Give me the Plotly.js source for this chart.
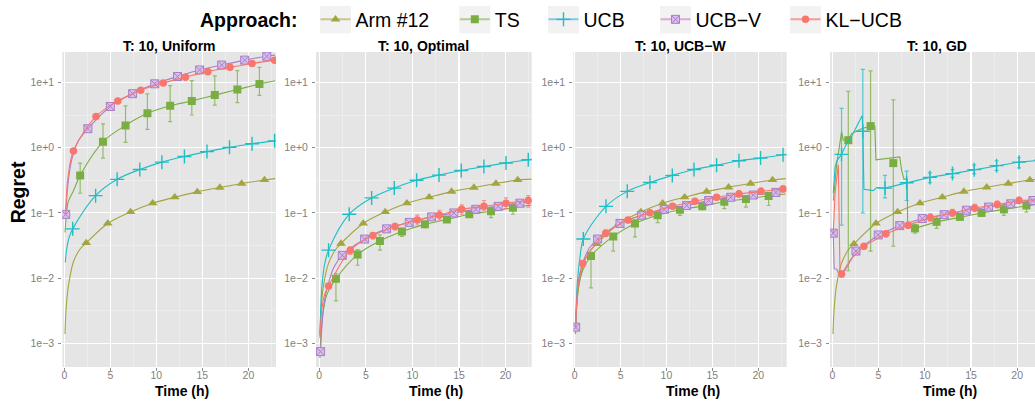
<!DOCTYPE html>
<html><head><meta charset="utf-8">
<script src="https://cdn.plot.ly/plotly-3.0.1.min.js"></script>
<style>html,body{margin:0;padding:0;overflow:hidden;background:#fff;width:1035px;height:404px}#chart{width:1050px;height:404px}</style>
</head><body><div id="chart"></div><script>
// ---------- categories / labels ----------
const panelTitles = ['T: 10, Uniform', 'T: 10, Optimal', 'T: 10, UCB\u2212W', 'T: 10, GD'];
const approaches = ['Arm #12', 'TS', 'UCB', 'UCB\u2212V', 'KL\u2212UCB'];
const xTickVals = [0, 5, 10, 15, 20];
const yTickVals = [0.001, 0.01, 0.1, 1, 10];
const yTickText = ['1e\u22123', '1e\u22122', '1e\u22121', '1e+0', '1e+1'];

// ---------- Panel 1: Uniform ----------
const uni_arm_lt = [0.07,0.2,0.44,1.0,1.72,2.38,4.72,7.2,9.6,12.0,14.45,16.9,19.27,21.75,22.9];
const uni_arm_lr = [0.0014,0.0035,0.0075,0.018,0.028,0.0347,0.069,0.1035,0.141,0.174,0.21,0.245,0.282,0.32,0.335];
const uni_arm_mt = [2.38,4.72,7.2,9.6,12.0,14.45,16.9,19.27,21.75];
const uni_arm_mr = [0.0347,0.069,0.1035,0.141,0.174,0.21,0.245,0.282,0.32];

const uni_ts_lt = [0.07,0.3,0.44,1.0,1.72,4.2,6.65,9.03,11.5,13.85,16.35,18.8,21.2,22.9];
const uni_ts_lr = [0.05,0.12,0.15,0.22,0.376,1.23,2.19,3.35,4.37,5.19,6.38,7.76,9.44,10.6];
const uni_ts_mt = [1.72,4.2,6.65,9.03,11.5,13.85,16.35,18.8,21.2];
const uni_ts_mr = [0.376,1.23,2.19,3.35,4.37,5.19,6.38,7.76,9.44];
const uni_ts_hi = [0.58,2.32,4.37,6.68,8.9,10.6,12.6,15.1,17];
const uni_ts_lo = [0.2,0.69,1.2,1.9,2.5,3.16,4.47,4.9,6.3];

const uni_ucb_lt = [0.1,0.25,0.5,0.91,3.4,5.74,8.2,10.6,13.05,15.5,17.95,20.4,22.85];
const uni_ucb_lr = [0.0174,0.0275,0.041,0.057,0.184,0.327,0.462,0.60,0.733,0.87,1.01,1.15,1.27];
const uni_ucb_mt = [0.91,3.4,5.74,8.2,10.6,13.05,15.5,17.95,20.4,22.85];
const uni_ucb_mr = [0.057,0.184,0.327,0.462,0.60,0.733,0.87,1.01,1.15,1.27];

const uni_ucbv_lt = [0.15,0.4,0.8,1.5,2.56,5.0,7.42,9.83,12.3,14.7,17.1,19.6,22.0,22.9];
const uni_ucbv_lr = [0.095,0.28,0.65,1.25,1.95,4.27,6.7,9.5,12.3,15.5,18.4,21.9,25.1,26.1];
const uni_ucbv_mt = [0.15,2.56,5.0,7.42,9.83,12.3,14.7,17.1,19.6,22.0];
const uni_ucbv_mr = [0.095,1.95,4.27,6.7,9.5,12.3,15.5,18.4,21.9,25.1];

const uni_kl_lt = [0.15,0.4,0.99,3.44,5.81,8.3,10.75,13.16,15.6,18.0,20.4,22.85];
const uni_kl_lr = [0.095,0.35,0.89,3.0,5.2,7.6,9.8,12,14.6,17,19.5,21.9];
const uni_kl_mt = [0.99,3.44,5.81,8.3,10.75,13.16,15.6,18.0,20.4,22.85];
const uni_kl_mr = [0.89,3.0,5.2,7.6,9.8,12,14.6,17,19.5,21.9];

// ---------- Panel 2: Optimal ----------
const opt_arm_lt = [0.07,0.2,0.44,1.0,1.72,2.33,4.72,7.08,9.41,11.8,14.2,16.6,18.96,21.3,22.8];
const opt_arm_lr = [0.0013,0.0034,0.0075,0.017,0.027,0.034,0.069,0.1035,0.141,0.174,0.212,0.245,0.282,0.32,0.33];
const opt_arm_mt = [2.33,4.72,7.08,9.41,11.8,14.2,16.6,18.96,21.3];
const opt_arm_mr = [0.034,0.069,0.1035,0.141,0.174,0.212,0.245,0.282,0.32];

const opt_ts_lt = [0.07,0.3,0.8,1.79,4.11,6.51,8.87,11.34,13.7,16.1,18.43,20.79,22.8];
const opt_ts_lr = [0.0006,0.0022,0.0055,0.0098,0.023,0.0372,0.0519,0.0668,0.0794,0.0955,0.106,0.12,0.132];
const opt_ts_mt = [1.79,4.11,6.51,8.87,11.34,13.7,16.1,18.43,20.79];
const opt_ts_mr = [0.0098,0.023,0.0372,0.0519,0.0668,0.0794,0.0955,0.106,0.12];
const opt_ts_hi = [0.0118,0.0275,0.046,0.058,0.0733,0.087,0.1035,0.123,0.138];
const opt_ts_lo = [0.0045,0.0158,0.027,0.0437,0.0596,0.0733,0.087,0.085,0.0955];

const opt_ucb_lt = [0.07,0.3,0.6,1.0,3.22,5.62,8.05,10.45,12.85,15.24,17.67,20.04,22.43,22.8];
const opt_ucb_lr = [0.0014,0.008,0.017,0.0269,0.0955,0.17,0.24,0.316,0.38,0.447,0.513,0.582,0.653,0.665];
const opt_ucb_mt = [1.0,3.22,5.62,8.05,10.45,12.85,15.24,17.67,20.04,22.43];
const opt_ucb_mr = [0.0269,0.0955,0.17,0.24,0.316,0.38,0.447,0.513,0.582,0.653];

const opt_ucbv_lt = [0.14,0.5,1.0,1.6,2.47,4.87,7.23,9.66,12.06,14.45,16.8,19.2,21.54,22.8];
const opt_ucbv_lr = [0.00075,0.004,0.0085,0.015,0.0224,0.0398,0.057,0.0716,0.087,0.1,0.1135,0.126,0.141,0.151];
const opt_ucbv_mt = [0.14,2.47,4.87,7.23,9.66,12.06,14.45,16.8,19.2,21.54];
const opt_ucbv_mr = [0.00075,0.0224,0.0398,0.057,0.0716,0.087,0.1,0.1135,0.126,0.141];

const opt_kl_lt = [0.07,0.3,0.6,1.0,3.33,5.76,8.12,10.52,12.9,15.28,17.67,20.04,22.43,22.8];
const opt_kl_lr = [0.0012,0.0035,0.0058,0.0076,0.0269,0.0452,0.0617,0.0776,0.0933,0.1135,0.126,0.141,0.155,0.157];
const opt_kl_mt = [1.0,3.33,5.76,8.12,10.52,12.9,15.28,17.67,20.04,22.43];
const opt_kl_mr = [0.0076,0.0269,0.0452,0.0617,0.0776,0.0933,0.1135,0.126,0.141,0.155];
const opt_kl_hi = [0.0083,0.0302,0.05,0.069,0.0923,0.11,0.133,0.155,0.17,0.184];
const opt_kl_lo = [0.0069,0.0232,0.04,0.055,0.0653,0.078,0.0955,0.11,0.116,0.123];

// ---------- Panel 3: UCB-W ----------
const ucbw_arm_lt = [0.07,0.2,0.44,1.0,1.72,2.4,4.83,7.22,9.58,11.98,14.37,16.77,19.16,21.56,23.0];
const ucbw_arm_lr = [0.0014,0.0034,0.0075,0.017,0.027,0.0335,0.069,0.1035,0.141,0.174,0.212,0.247,0.282,0.32,0.335];
const ucbw_arm_mt = [2.4,4.83,7.22,9.58,11.98,14.37,16.77,19.16,21.56];
const ucbw_arm_mr = [0.0335,0.069,0.1035,0.141,0.174,0.212,0.247,0.282,0.32];

const ucbw_ts_lt = [0.1,0.4,0.9,1.78,4.2,6.57,9.04,11.47,13.9,16.3,18.66,21.13,23.0];
const ucbw_ts_lr = [0.0014,0.007,0.0135,0.0219,0.0437,0.069,0.0923,0.112,0.127,0.148,0.164,0.182,0.195];
const ucbw_ts_mt = [1.78,4.2,6.57,9.04,11.47,13.9,16.3,18.66,21.13];
const ucbw_ts_mr = [0.0219,0.0437,0.069,0.0923,0.112,0.127,0.148,0.164,0.182];
const ucbw_ts_hi = [0.025,0.048,0.078,0.0968,0.123,0.141,0.17,0.184,0.206];
const ucbw_ts_lo = [0.0071,0.026,0.043,0.071,0.092,0.112,0.116,0.123,0.13];

const ucbw_ucb_lt = [0.1,0.3,0.6,0.94,3.41,5.73,8.2,10.64,13.0,15.46,17.9,20.25,22.7,23.0];
const ucbw_ucb_lr = [0.0017,0.009,0.022,0.0398,0.126,0.214,0.292,0.376,0.462,0.537,0.631,0.692,0.776,0.79];
const ucbw_ucb_mt = [0.94,3.41,5.73,8.2,10.64,13.0,15.46,17.9,20.25,22.7];
const ucbw_ucb_mr = [0.0398,0.126,0.214,0.292,0.376,0.462,0.537,0.631,0.692,0.776];

const ucbw_ucbv_lt = [0.11,0.4,0.9,1.6,2.5,4.94,7.3,9.76,12.2,14.6,17.0,19.46,21.92,23.0];
const ucbw_ucbv_lr = [0.00178,0.009,0.0175,0.029,0.0398,0.069,0.092,0.1135,0.13,0.155,0.174,0.188,0.206,0.218];
const ucbw_ucbv_mt = [0.11,2.5,4.94,7.3,9.76,12.2,14.6,17.0,19.46,21.92];
const ucbw_ucbv_mr = [0.00178,0.0398,0.069,0.092,0.1135,0.13,0.155,0.174,0.188,0.206];

const ucbw_kl_lt = [0.1,0.3,0.6,0.87,3.38,5.81,8.2,10.67,13.1,15.46,17.9,20.3,22.7,23.0];
const ucbw_kl_lr = [0.0017,0.006,0.012,0.0168,0.049,0.0776,0.101,0.127,0.151,0.174,0.195,0.214,0.232,0.235];
const ucbw_kl_mt = [0.87,3.38,5.81,8.2,10.67,13.1,15.46,17.9,20.3,22.7];
const ucbw_kl_mr = [0.0168,0.049,0.0776,0.101,0.127,0.151,0.174,0.195,0.214,0.232];
const ucbw_kl_hi = [0.0185,0.055,0.085,0.11,0.138,0.165,0.19,0.219,0.24,0.26];
const ucbw_kl_lo = [0.0152,0.0437,0.071,0.093,0.117,0.138,0.16,0.178,0.195,0.21];

// ---------- Panel 4: GD ----------
const gd_arm_lt = [0.07,0.2,0.44,1.0,1.72,2.34,4.72,7.06,9.48,11.9,14.23,16.7,19.03,21.37,22.9];
const gd_arm_lr = [0.0014,0.0034,0.0075,0.017,0.027,0.0335,0.069,0.1035,0.141,0.174,0.212,0.247,0.282,0.32,0.333];
const gd_arm_mt = [2.34,4.72,7.06,9.48,11.9,14.23,16.7,19.03,21.37];
const gd_arm_mr = [0.0335,0.069,0.1035,0.141,0.174,0.212,0.247,0.282,0.32];

const gd_ts_lt = [0.11,0.3,0.47,1.0,1.19,1.73,2.09,3.17,4.14,4.6,4.72,7.3,7.5,7.75,8.1,8.15,8.94,11.28,13.8,16.14,18.56,21.0,22.9];
const gd_ts_lr = [0.155,0.35,0.55,1.74,1.3,1.3,1.64,1.95,2.14,2.14,0.65,0.72,0.45,0.33,0.33,0.063,0.058,0.073,0.087,0.1,0.1135,0.13,0.141];
const gd_ts_mt = [1.73,4.14,6.6,8.94,11.28,13.8,16.14,18.56,21.0];
const gd_ts_mr = [1.3,2.14,0.58,0.058,0.073,0.087,0.1,0.1135,0.13];
const gd_ts_hi = [7.3,15,5.4,0.067,0.087,0.098,0.11,0.138,0.155];
const gd_ts_lo = [0.013,0.026,0.031,0.049,0.058,0.078,0.09,0.092,0.103];

const gd_ucb_lt = [0.1,0.3,0.47,1.0,1.55,2.1,2.7,3.24,3.3,3.42,4.43,4.8,5.7,8.04,10.56,13.0,15.35,17.77,20.2,22.6,22.9];
const gd_ucb_lr = [0.2,0.5,0.62,0.79,1.15,1.5,2.2,3.1,1.78,0.23,0.22,0.245,0.24,0.29,0.35,0.4,0.46,0.53,0.6,0.64,0.65];
const gd_ucb_mt = [1.0,3.3,5.7,8.04,10.56,13.0,15.35,17.77,20.2,22.6];
const gd_ucb_mr = [0.79,1.78,0.24,0.29,0.35,0.4,0.46,0.53,0.6,0.64];
const gd_ucb_hi = [4.0,15.8,0.376,0.437,0.41,0.46,0.54,0.63,0.7,0.72];
const gd_ucb_lo = [0.065,0.1,0.17,0.155,0.29,0.35,0.4,0.45,0.49,0.56];

const gd_ucbv_lt = [0.1,0.2,0.47,0.8,1.2,2.56,4.97,7.3,9.73,12.1,14.5,16.9,19.3,21.7,22.9];
const gd_ucbv_lr = [0.049,0.014,0.0138,0.011,0.012,0.026,0.046,0.064,0.082,0.094,0.11,0.123,0.138,0.155,0.16];
const gd_ucbv_mt = [0.1,2.56,4.97,7.3,9.73,12.1,14.5,16.9,19.3,21.7];
const gd_ucbv_mr = [0.049,0.026,0.046,0.064,0.082,0.094,0.11,0.123,0.138,0.155];

const gd_kl_lt = [0.1,0.3,0.65,0.83,1.0,2.0,3.42,5.8,8.2,10.6,13.0,15.4,17.84,20.2,22.6,22.9];
const gd_kl_lr = [0.049,0.2,0.55,0.0123,0.0116,0.0195,0.031,0.048,0.065,0.085,0.1,0.119,0.135,0.155,0.16,0.161];
const gd_kl_mt = [1.0,3.42,5.8,8.2,10.6,13.0,15.4,17.84,20.2,22.6];
const gd_kl_mr = [0.0116,0.031,0.048,0.065,0.085,0.1,0.119,0.135,0.155,0.16];
const gd_kl_hi = [0.0128,0.034,0.053,0.072,0.097,0.113,0.135,0.152,0.175,0.18];
const gd_kl_lo = [0.0105,0.028,0.043,0.058,0.075,0.089,0.105,0.12,0.14,0.145];

// ---------- styles ----------
const FONT = '"Liberation Sans", Arial, Helvetica, sans-serif';
const STY = {
  arm:  {color:'#A3A53E', legLine:'rgba(163,165,62,0.55)', symbol:'triangle-up', size:8.5},
  ts:   {color:'#7AAE42', legLine:'rgba(122,174,66,0.55)', symbol:'square', size:8},
  ucb:  {color:'#1DBEC5', legLine:'rgba(60,170,230,0.6)', symbol:'cross-thin', size:10},
  ucbv: {color:'#A77FCB', fill:'#D9BFE8', legLine:'rgba(200,120,200,0.6)', symbol:'square-x', size:8},
  kl:   {color:'#F8766D', legLine:'rgba(248,118,109,0.7)', symbol:'circle', size:7.5}
};
const KEYS = ['arm','ts','ucb','ucbv','kl'];

function markerOf(s) {
  if (s.symbol === 'cross-thin') return {symbol:s.symbol, size:s.size, color:s.color, line:{color:s.color, width:1.4}};
  if (s.symbol === 'square-x') return {symbol:s.symbol, size:s.size, color:s.fill, line:{color:s.color, width:1}};
  return {symbol:s.symbol, size:s.size, color:s.color, line:{width:0}};
}
function rgba(hex, a) {
  const n = parseInt(hex.slice(1), 16);
  return 'rgba(' + ((n>>16)&255) + ',' + ((n>>8)&255) + ',' + (n&255) + ',' + a + ')';
}

const PANEL_DATA = [
  {arm:[uni_arm_lt,uni_arm_lr,uni_arm_mt,uni_arm_mr], ts:[uni_ts_lt,uni_ts_lr,uni_ts_mt,uni_ts_mr,uni_ts_hi,uni_ts_lo],
   ucb:[uni_ucb_lt,uni_ucb_lr,uni_ucb_mt,uni_ucb_mr], ucbv:[uni_ucbv_lt,uni_ucbv_lr,uni_ucbv_mt,uni_ucbv_mr], kl:[uni_kl_lt,uni_kl_lr,uni_kl_mt,uni_kl_mr]},
  {arm:[opt_arm_lt,opt_arm_lr,opt_arm_mt,opt_arm_mr], ts:[opt_ts_lt,opt_ts_lr,opt_ts_mt,opt_ts_mr,opt_ts_hi,opt_ts_lo],
   ucb:[opt_ucb_lt,opt_ucb_lr,opt_ucb_mt,opt_ucb_mr], ucbv:[opt_ucbv_lt,opt_ucbv_lr,opt_ucbv_mt,opt_ucbv_mr], kl:[opt_kl_lt,opt_kl_lr,opt_kl_mt,opt_kl_mr,opt_kl_hi,opt_kl_lo]},
  {arm:[ucbw_arm_lt,ucbw_arm_lr,ucbw_arm_mt,ucbw_arm_mr], ts:[ucbw_ts_lt,ucbw_ts_lr,ucbw_ts_mt,ucbw_ts_mr,ucbw_ts_hi,ucbw_ts_lo],
   ucb:[ucbw_ucb_lt,ucbw_ucb_lr,ucbw_ucb_mt,ucbw_ucb_mr], ucbv:[ucbw_ucbv_lt,ucbw_ucbv_lr,ucbw_ucbv_mt,ucbw_ucbv_mr], kl:[ucbw_kl_lt,ucbw_kl_lr,ucbw_kl_mt,ucbw_kl_mr,ucbw_kl_hi,ucbw_kl_lo]},
  {arm:[gd_arm_lt,gd_arm_lr,gd_arm_mt,gd_arm_mr], ts:[gd_ts_lt,gd_ts_lr,gd_ts_mt,gd_ts_mr,gd_ts_hi,gd_ts_lo],
   ucb:[gd_ucb_lt,gd_ucb_lr,gd_ucb_mt,gd_ucb_mr,gd_ucb_hi,gd_ucb_lo], ucbv:[gd_ucbv_lt,gd_ucbv_lr,gd_ucbv_mt,gd_ucbv_mr], kl:[gd_kl_lt,gd_kl_lr,gd_kl_mt,gd_kl_mr,gd_kl_hi,gd_kl_lo]}
];
// series drawn with straight segments (they contain jumps)
const LINEAR = {'3:ts':true, '3:ucb':true, '3:kl':true, '3:ucbv':true};

// ---------- geometry (pixels) ----------
const W = 1050, H = 404, MT = 45, MB = 37.3;
const PH = H - MT - MB;
const DOM = [[62.3,276],[316,531.7],[573.3,786.7],[830,1044]];
const XR = [[-0.22,23.0],[-0.35,22.8],[-0.15,23.1],[-0.25,22.9]];
const YR = [-3.36, 1.465];
const px2x = p => p / W;
const px2y = p => (H - MB - p) / PH;

const traces = [];
PANEL_DATA.forEach((pd, p) => {
  const xa = p === 0 ? 'x' : 'x' + (p+1), ya = p === 0 ? 'y' : 'y' + (p+1);
  KEYS.forEach(k => {
    const d = pd[k], s = STY[k];
    const lin = LINEAR[p + ':' + k];
    traces.push({type:'scatter', mode:'lines', x:d[0], y:d[1], xaxis:xa, yaxis:ya,
      line:{color:s.color, width:1.1, shape: lin ? 'linear' : 'spline', smoothing: 1},
      showlegend:false, hoverinfo:'skip'});
    const mk = {type:'scatter', mode:'markers', x:d[2], y:d[3], xaxis:xa, yaxis:ya,
      marker:markerOf(s), showlegend:false, name:approaches[KEYS.indexOf(k)]};
    if (d[4]) {
      mk.error_y = {type:'data', symmetric:false,
        array: d[4].map((h,i) => h - d[3][i]),
        arrayminus: d[5].map((l,i) => d[3][i] - l),
        color: rgba(s.color, 0.75), thickness:1.2, width:2};
    }
    traces.push(mk);
  });
});

// legend entries (one legend each, positioned like the reference)
const LEG_BOX = [320, 459.3, 548, 660, 790];
KEYS.forEach((k, i) => {
  const s = STY[k];
  traces.push({type:'scatter', mode:'lines+markers', x:[null], y:[null], name:approaches[i],
    legend: i === 0 ? 'legend' : 'legend' + (i+1),
    line:{color:s.legLine, width:2}, marker:markerOf(s), hoverinfo:'skip'});
});

const layout = {
  width: W, height: H,
  margin: {l:0, r:0, t:MT, b:MB, pad:0},
  paper_bgcolor: '#ffffff', plot_bgcolor: '#E5E5E5',
  font: {family: FONT, color:'#000'},
  showlegend: true,
  annotations: [], shapes: []
};

const minorY = [0.0031623, 0.031623, 0.31623, 3.1623, 31.623];
DOM.forEach((dm, p) => {
  const sx = p === 0 ? '' : String(p+1);
  layout['xaxis' + sx] = {
    domain:[px2x(dm[0]), px2x(dm[1])], range:XR[p], anchor:'y' + sx,
    tickmode:'array', tickvals:xTickVals, ticktext:xTickVals.map(String),
    showgrid:true, gridcolor:'#FFFFFF', gridwidth:1.1, zeroline:false, showline:false,
    ticks:'outside', ticklen:3, tickcolor:'#8C8C8C', tickwidth:1, ticklabelstandoff:-5,
    tickfont:{size:10.5, color:'#7F7F7F', family:FONT},
    minor:{tickmode:'array', tickvals:[2.5,7.5,12.5,17.5,22.5], showgrid:true, gridcolor:'#F2F2F2', gridwidth:0.6, ticks:''},
    fixedrange:true
  };
  layout['yaxis' + sx] = {
    type:'log', domain:[0,1], range:YR, anchor:'x' + sx,
    tickmode:'array', tickvals:yTickVals, ticktext:yTickText,
    showgrid:true, gridcolor:'#FFFFFF', gridwidth:1.1, zeroline:false, showline:false,
    ticks:'outside', ticklen:3, tickcolor:'#8C8C8C', tickwidth:1, ticklabelstandoff:2,
    tickfont:{size:10.5, color:'#7F7F7F', family:FONT},
    minor:{tickmode:'array', tickvals:minorY, showgrid:true, gridcolor:'#F2F2F2', gridwidth:0.6, ticks:''},
    fixedrange:true
  };
  const cx = (dm[0] + dm[1]) / 2;
  layout.annotations.push({text:'<b>' + panelTitles[p] + '</b>', xref:'paper', yref:'paper',
    x:px2x(cx), y:px2y(38.5), xanchor:'center', yanchor:'middle', showarrow:false,
    font:{size:14, family:FONT, color:'#000'}});
  layout.annotations.push({text:'<b>Time (h)</b>', xref:'paper', yref:'paper',
    x:px2x(cx + 12.5), y:px2y(391), xanchor:'center', yanchor:'middle', showarrow:false,
    font:{size:14, family:FONT, color:'#000'}});
});

layout.annotations.push({text:'<b>Regret</b>', xref:'paper', yref:'paper', x:px2x(18), y:px2y(188.3),
  xanchor:'center', yanchor:'middle', textangle:-90, showarrow:false, font:{size:19.5, family:FONT, color:'#000'}});
layout.annotations.push({text:'<b>Approach:</b>', xref:'paper', yref:'paper', x:px2x(249), y:px2y(12),
  xanchor:'center', yanchor:'middle', showarrow:false, font:{size:19.5, family:FONT, color:'#000'}});

LEG_BOX.forEach((bx, i) => {
  layout.shapes.push({type:'rect', xref:'paper', yref:'paper', layer:'below',
    x0:px2x(bx), x1:px2x(bx + 31), y0:px2y(26), y1:px2y(-2), fillcolor:'#F2F2F2', line:{width:0}});
  layout[i === 0 ? 'legend' : 'legend' + (i+1)] = {
    x:px2x(bx + 15.5 - 20), y:px2y(12), xanchor:'left', yanchor:'middle',
    orientation:'h', bgcolor:'rgba(0,0,0,0)', borderwidth:0, itemwidth:30,
    font:{size:19.5, family:FONT, color:'#000'}
  };
});

Plotly.newPlot('chart', traces, layout, {staticPlot:true, displayModeBar:false});
</script></body></html>
